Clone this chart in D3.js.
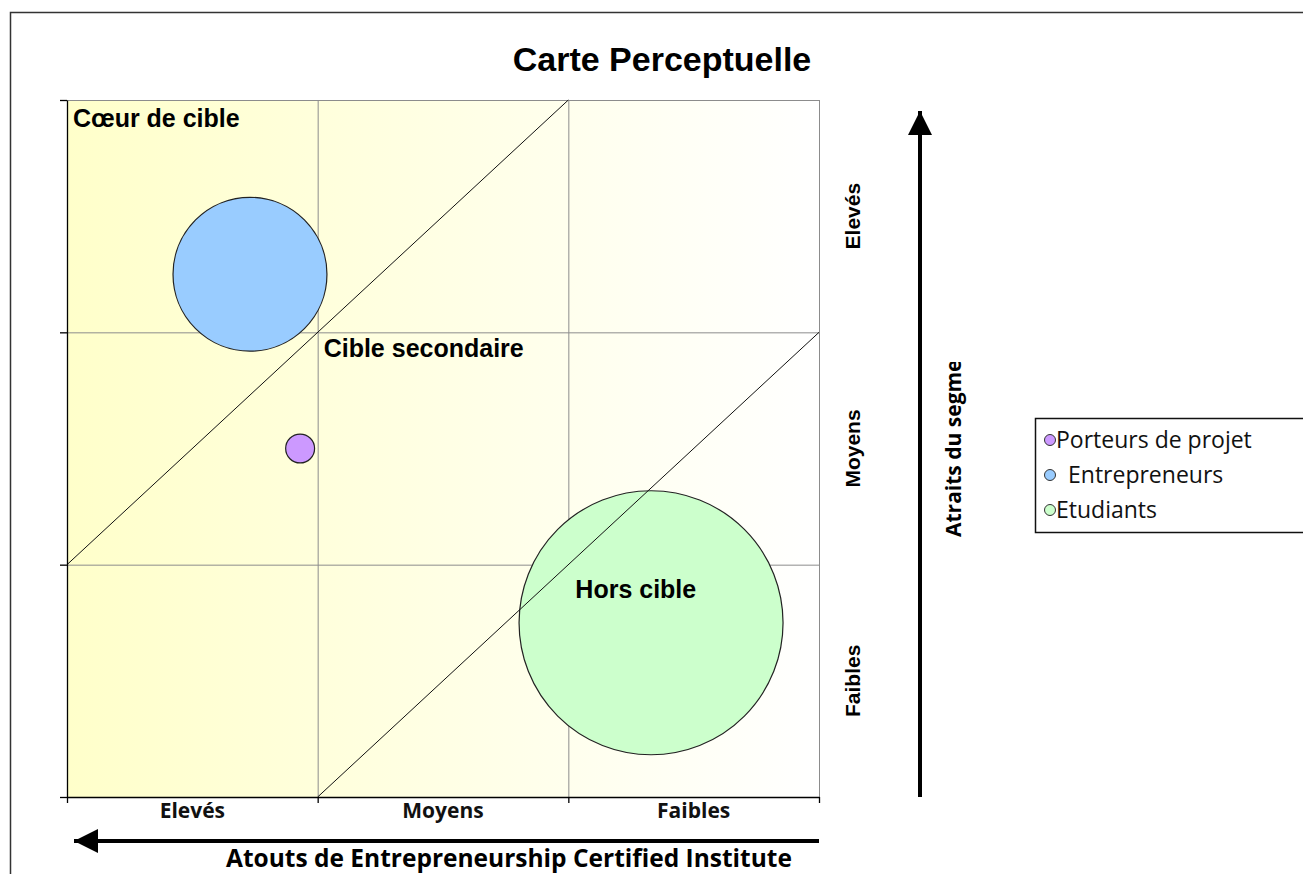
<!DOCTYPE html>
<html>
<head>
<meta charset="utf-8">
<script src="https://cdn.jsdelivr.net/npm/d3@7"></script>
<style>
  body { margin: 0; background: #fff; }
  svg { display: block; }
</style>
</head>
<body>
<div id="chart"></div>
<script>
// the three segments, their position on the map and the size of the bubble
var segments = ["Porteurs de projet", "Entrepreneurs", "Etudiants"]
var atouts = [0.93, 0.73, 2.33]      // x : atouts de l'institut (0 = elevés ... 3 = faibles)
var attraits = [1.50, 2.25, 0.75]    // y : attraits du segment (0 = faibles ... 3 = elevés)
var tailles = [1.2, 34, 100]         // bubble size
var couleurs = ["#CC99FF", "#99CCFF", "#CCFFCC"]

var xLabels = ["Elevés", "Moyens", "Faibles"]
var yLabels = ["Faibles", "Moyens", "Elevés"]
var gridTicks = [0, 1, 2, 3]

// the two diagonal borders between the zones
var diagonales = [
  [[0, 1], [2, 3]],
  [[1, 0], [3, 2]]
]

var W = 1303, H = 874
var plot = {left: 67, top: 100, right: 819, bottom: 797}

var svg = d3.select("#chart").append("svg")
  .attr("width", W)
  .attr("height", H)

var x = d3.scaleLinear().domain([0, 3]).range([plot.left, plot.right])
var y = d3.scaleLinear().domain([0, 3]).range([plot.bottom, plot.top])
var r = d3.scaleSqrt().domain([0, 100]).range([0, 132])

// outer chart frame (runs off the picture right and bottom)
svg.append("rect")
  .attr("x", 10.5).attr("y", 12.5)
  .attr("width", 1400).attr("height", 1000)
  .style("fill", "none")
  .style("stroke", "#333")
  .style("stroke-width", 1.5)

// background gradient, yellow on the left fading to white
var defs = svg.append("defs")
var grad = defs.append("linearGradient").attr("id", "fond")
  .attr("x1", "0%").attr("x2", "100%").attr("y1", "0%").attr("y2", "0%")
grad.append("stop").attr("offset", "0%").attr("stop-color", "#FFFFCA")
grad.append("stop").attr("offset", "100%").attr("stop-color", "#FFFFFF")

svg.append("rect")
  .attr("x", plot.left).attr("y", plot.top)
  .attr("width", plot.right - plot.left)
  .attr("height", plot.bottom - plot.top)
  .style("fill", "url(#fond)")

// grid lines
var gridX = svg.append("g")
  .attr("transform", `translate(0,${plot.bottom})`)
  .call(d3.axisBottom(x).tickValues(gridTicks).tickSize(-(plot.bottom - plot.top)).tickFormat(""))
gridX.select(".domain").remove()
gridX.selectAll("line").style("stroke", "#8c8c8c")

var gridY = svg.append("g")
  .attr("transform", `translate(${plot.left},0)`)
  .call(d3.axisLeft(y).tickValues(gridTicks).tickSize(-(plot.right - plot.left)).tickFormat(""))
gridY.select(".domain").remove()
gridY.selectAll("line").style("stroke", "#8c8c8c")

// bubbles, biggest first so the small one stays on top
var ordre = d3.range(segments.length).sort((a, b) => tailles[b] - tailles[a])
svg.selectAll(".bulle").data(ordre)
  .enter().append("circle")
  .attr("class", "bulle")
  .attr("cx", i => x(atouts[i]))
  .attr("cy", i => y(attraits[i]))
  .attr("r", i => r(tailles[i]))
  .style("fill", i => couleurs[i])
  .style("stroke", "#222")
  .style("stroke-width", 1.2)

// diagonals (drawn over the bubbles)
var ligne = d3.line().x(d => x(d[0])).y(d => y(d[1]))
svg.selectAll(".diag").data(diagonales)
  .enter().append("path")
  .attr("class", "diag")
  .attr("d", ligne)
  .style("fill", "none")
  .style("stroke", "#111")
  .style("stroke-width", 1)

// black axes with small outside ticks
var axeX = svg.append("g")
  .attr("transform", `translate(0,${plot.bottom})`)
  .call(d3.axisBottom(x).tickValues(gridTicks).tickSize(6).tickSizeOuter(0).tickFormat(""))
axeX.selectAll("path, line").style("stroke", "#000").style("stroke-width", 1.3)

var axeY = svg.append("g")
  .attr("transform", `translate(${plot.left},0)`)
  .call(d3.axisLeft(y).tickValues(gridTicks).tickSize(7).tickSizeOuter(0).tickFormat(""))
axeY.selectAll("path, line").style("stroke", "#000").style("stroke-width", 1.3)

// zone labels
var zoneFont = "'Liberation Sans', Arial, sans-serif"
svg.append("text").text("Cœur de cible")
  .attr("x", x(0) + 6).attr("y", y(3) + 27)
  .style("font-family", zoneFont).style("font-weight", "bold").style("font-size", "25px")
svg.append("text").text("Cible secondaire")
  .attr("x", x(1) + 6).attr("y", y(2) + 25)
  .style("font-family", zoneFont).style("font-weight", "bold").style("font-size", "25px")
svg.append("text").text("Hors cible")
  .attr("x", x(2) + 7).attr("y", y(1) + 33)
  .style("font-family", zoneFont).style("font-weight", "bold").style("font-size", "25px")

// title
svg.append("text").text("Carte Perceptuelle")
  .attr("x", 662).attr("y", 71)
  .attr("text-anchor", "middle")
  .style("font-family", zoneFont).style("font-weight", "bold").style("font-size", "34px")

// category labels under the x axis
var labelFont = "'Open Sans', sans-serif"
svg.selectAll(".xlab").data(xLabels)
  .enter().append("text")
  .attr("class", "xlab")
  .text(d => d)
  .attr("x", (d, i) => x(i + 0.5))
  .attr("y", 818)
  .attr("text-anchor", "middle")
  .style("font-family", labelFont).style("font-weight", "bold").style("font-size", "21px")
  .style("fill", "#111")

// category labels on the right, rotated
svg.selectAll(".ylab").data(yLabels)
  .enter().append("text")
  .attr("class", "ylab")
  .text(d => d)
  .attr("transform", (d, i) => `translate(860,${y(i + 0.5)}) rotate(-90)`)
  .attr("text-anchor", "middle")
  .style("font-family", zoneFont).style("font-weight", "bold").style("font-size", "21px")

// arrows
defs.append("marker").attr("id", "fleche")
  .attr("viewBox", "0 0 10 10")
  .attr("refX", 10).attr("refY", 5)
  .attr("markerWidth", 6).attr("markerHeight", 6)
  .attr("markerUnits", "strokeWidth")
  .attr("orient", "auto")
  .append("path").attr("d", "M0,0 L10,5 L0,10 Z").style("fill", "#000")

svg.append("line")
  .attr("x1", 920).attr("y1", plot.bottom)
  .attr("x2", 920).attr("y2", 111)
  .style("stroke", "#000").style("stroke-width", 4)
  .attr("marker-end", "url(#fleche)")

svg.append("line")
  .attr("x1", plot.right).attr("y1", 841)
  .attr("x2", 74).attr("y2", 841)
  .style("stroke", "#000").style("stroke-width", 4)
  .attr("marker-end", "url(#fleche)")

// axis titles
svg.append("text").text("Atouts de Entrepreneurship Certified Institute")
  .attr("x", 226).attr("y", 867)
  .style("font-family", labelFont).style("font-weight", "bold").style("font-size", "24.5px")

// the y title is cut at the top in the original
defs.append("clipPath").attr("id", "coupe")
  .append("rect").attr("x", 930).attr("y", 362).attr("width", 80).attr("height", 400)

svg.append("g")
  .attr("clip-path", "url(#coupe)")
  .append("text").text("Atraits du segment")
  .attr("transform", "translate(961,537) rotate(-90)")
  .style("font-family", labelFont).style("font-weight", "bold").style("font-size", "21px")

// legend (cut by the right edge of the picture)
var leg = svg.append("g").attr("transform", "translate(1035,418)")
leg.append("rect")
  .attr("x", 0.5).attr("y", 0.5)
  .attr("width", 400).attr("height", 114)
  .style("fill", "#fff")
  .style("stroke", "#111")
  .style("stroke-width", 1.5)

var items = leg.selectAll(".item").data(segments)
  .enter().append("g")
  .attr("class", "item")
  .attr("transform", (d, i) => `translate(0,${22 + i * 35})`)

items.append("circle")
  .attr("cx", 15).attr("cy", 0).attr("r", 5.5)
  .style("fill", (d, i) => couleurs[i])
  .style("stroke", "#333")
  .style("stroke-width", 1)

items.append("text")
  .text(d => d)
  .attr("x", (d, i) => i == 1 ? 33 : 21)
  .attr("y", 8)
  .style("font-family", labelFont).style("font-size", "23px")
  .style("fill", "#111")
</script>
</body>
</html>
